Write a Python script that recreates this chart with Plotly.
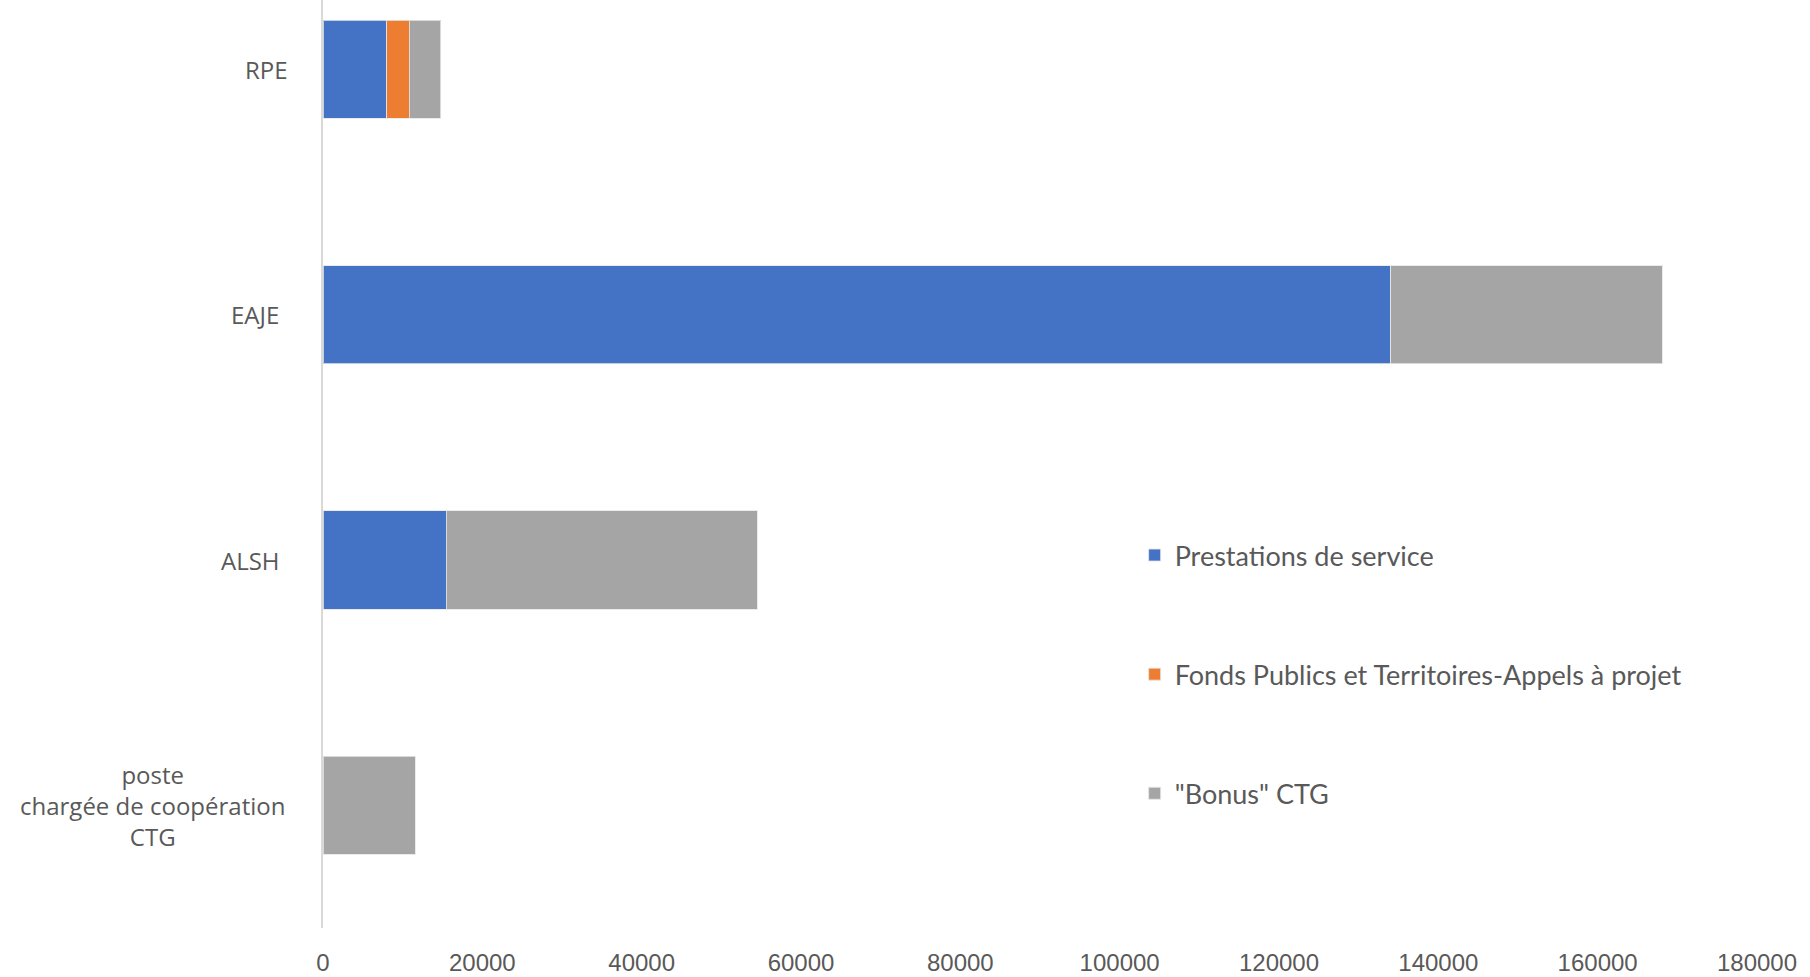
import plotly.graph_objects as go

categories = ["RPE", "EAJE", "ALSH", "poste<br>chargée de coopération<br>CTG"]
prestations = [8000, 134000, 15500, 0]
fonds_publics = [2800, 0, 0, 0]
bonus_ctg = [4000, 34100, 39000, 11600]
series_names = ["Prestations de service", "Fonds Publics et Territoires-Appels à projet", "\"Bonus\" CTG"]
x_ticks = [0, 20000, 40000, 60000, 80000, 100000, 120000, 140000, 160000, 180000]

colors = ["#4472C4", "#ED7D31", "#A5A5A5"]
label_shift = [-57, -68, -73, -171]

cat_idx = list(range(len(categories)))

fig = go.Figure()
for i, (name, vals) in enumerate(zip(series_names, [prestations, fonds_publics, bonus_ctg])):
    fig.add_trace(go.Bar(
        y=cat_idx, x=vals, name=name, orientation="h",
        marker=dict(color=colors[i], line=dict(color="rgba(230,230,230,0.8)", width=1)),
        legendgroup=f"g{i}",
    ))

for i, c in enumerate(categories):
    fig.add_annotation(
        x=0, xref="paper", y=cat_idx[i], yref="y", text=c, showarrow=False,
        xanchor="center", yanchor="middle", align="center", xshift=label_shift[i],
        font=dict(family="Open Sans", size=24, color="#595959"),
    )

fig.update_layout(
    barmode="stack",
    bargap=0.6,
    width=1810, height=977,
    margin=dict(l=323, r=53, t=0, b=49, autoexpand=False),
    plot_bgcolor="white", paper_bgcolor="white",
    showlegend=True,
    legend=dict(
        x=0.566, y=0.4278, xanchor="left", yanchor="top",
        font=dict(family="Lato", size=27, color="#595959"),
        tracegroupgap=81, traceorder="grouped",
        bgcolor="rgba(0,0,0,0)",
    ),
    xaxis=dict(
        range=[0, 180000], tickvals=x_ticks, ticktext=[str(v) for v in x_ticks],
        showgrid=False, zeroline=False, showline=False, automargin=False,
        ticks="outside", ticklen=13, tickcolor="rgba(0,0,0,0)",
        tickfont=dict(family="Liberation Sans", size=24, color="#595959"),
    ),
    yaxis=dict(
        range=[3.5, -0.283], showticklabels=False, showgrid=False, zeroline=False,
        showline=True, linecolor="#D9D9D9", linewidth=2, automargin=False,
    ),
)

fig.write_html(
    "out.html",
    config={"displayModeBar": False},
    post_script="document.body.style.margin='0';document.body.style.overflow='hidden';",
)
